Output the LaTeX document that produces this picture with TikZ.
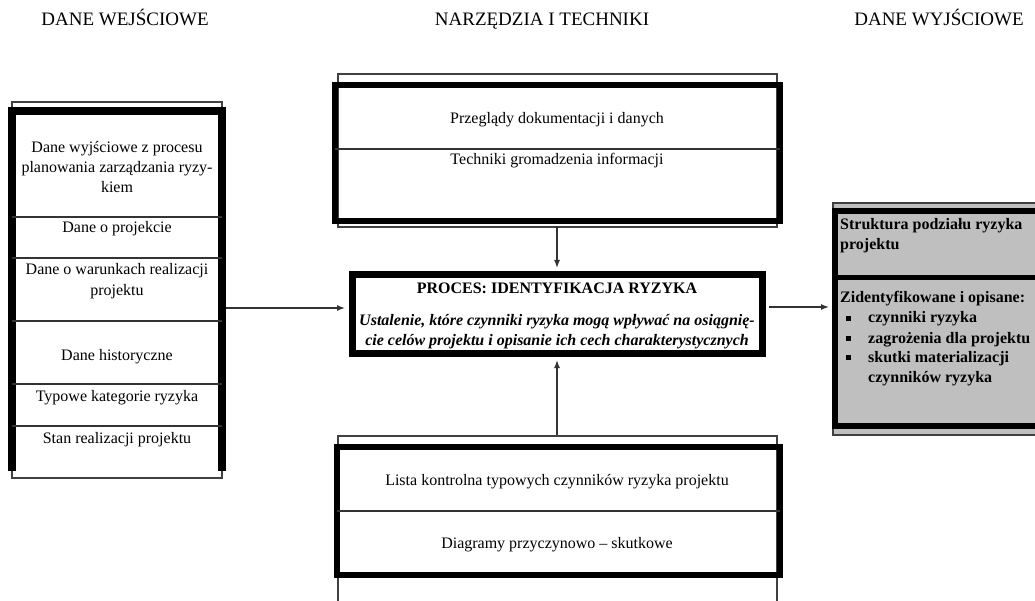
\documentclass[tikz,border=0pt]{standalone}
\usepackage{fontspec}
\setmainfont{Liberation Serif}
\usetikzlibrary{arrows.meta}
\begin{document}
\begin{tikzpicture}[x=1pt,y=-1pt,
  thinframe/.style={draw=black!75, line width=1.1pt},
  heavybox/.style={draw=black, line width=#1, inner sep=0pt},
  divider/.style={draw=black!80, line width=1.2pt},
  head/.style={font=\fontsize{19}{22}\selectfont, inner sep=0pt, anchor=base},
  lbl/.style={font=\fontsize{16}{19}\selectfont, inner sep=0pt, anchor=base},
  lblw/.style={font=\fontsize{16}{19}\selectfont\bfseries, inner sep=0pt, anchor=base west},
  conn/.style={draw=black!80, line width=1.4pt, -{Latex[length=8pt,width=6pt]}},
  ]
\clip (0,0) rectangle (1035,601);

% column headings
\node[head] (hin)   at (125,26) {DANE WEJŚCIOWE};
\node[head] (htool) at (542,26) {NARZĘDZIA I TECHNIKI};
\node[head] (hout)  at (939,26) {DANE WYJŚCIOWE};

% ---- inputs column ----
\node[thinframe, minimum width=210pt, minimum height=376pt, inner sep=0pt] (inouter) at (117,290) {};
\node[inner sep=0pt, minimum width=210pt, minimum height=360pt] (inframe) at (117,291) {};
\draw[black, line width=7.5pt] (inframe.south west) |- (inframe.north east) -- (inframe.south east);
\foreach \yy in {217,258,321,384,426}
  \draw[divider] (12,\yy) -- (222,\yy);
\node[lbl] (in1a) at (117,153) {Dane wyjściowe z procesu};
\node[lbl] (in1b) at (117,173) {planowania zarządzania ryzy-};
\node[lbl] (in1c) at (117,193) {kiem};
\node[lbl] (in2)  at (117,233) {Dane o projekcie};
\node[lbl] (in3a) at (117,275) {Dane o warunkach realizacji};
\node[lbl] (in3b) at (117,296) {projektu};
\node[lbl] (in4)  at (117,360) {Dane historyczne};
\node[lbl] (in5)  at (117,401) {Typowe kategorie ryzyka};
\node[lbl] (in6)  at (117,443) {Stan realizacji projektu};

% ---- tools: upper box ----
\node[thinframe, minimum width=439pt, minimum height=153pt, inner sep=0pt] (topouter) at (557.5,150.5) {};
\node[heavybox=5.5pt, minimum width=445pt, minimum height=136pt] (topbox) at (557.5,153) {};
\draw[divider] (335,149) -- (780,149);
\node[lbl] (t1) at (557,124) {Przeglądy dokumentacji i danych};
\node[lbl] (t2) at (557,165) {Techniki gromadzenia informacji};

% ---- tools: lower box ----
\node[thinframe, minimum width=439pt, minimum height=184pt, inner sep=0pt] (botouter) at (557.5,528) {};
\node[heavybox=5.5pt, minimum width=443pt, minimum height=128pt] (botbox) at (558.5,511) {};
\draw[divider] (337,511) -- (780,511);
\node[lbl] (b1) at (557,485) {Lista kontrolna typowych czynników ryzyka projektu};
\node[lbl] (b2) at (557,548) {Diagramy przyczynowo – skutkowe};

% ---- process ----
\node[lbl, font=\fontsize{16}{19}\selectfont\bfseries] (ptitle) at (557,294) {PROCES: IDENTYFIKACJA RYZYKA};
\node[lbl, font=\fontsize{16}{19}\selectfont\bfseries\itshape] (pl1) at (557,326) {Ustalenie, które czynniki ryzyka mogą wpływać na osiągnię-};
\node[lbl, font=\fontsize{16}{19}\selectfont\bfseries\itshape] (pl2) at (557,345) {cie celów projektu i opisanie ich cech charakterystycznych};
\node[heavybox=7pt, minimum width=410pt, minimum height=78pt] (proc) at (557,314) {};

% ---- outputs ----
\node[thinframe, fill=black!25, minimum width=212pt, minimum height=232pt, inner sep=0pt] (outouter) at (939,319) {};
\node[heavybox=6pt, fill=black!25, minimum width=210pt, minimum height=215pt] (outbox) at (940,318.5) {};
\draw[black, line width=5pt] (835,278) -- (1045,278);
\node[lblw] (o1a) at (840,230) {Struktura podziału ryzyka};
\node[lblw] (o1b) at (840,250) {projektu};
\node[lblw] (o2)  at (840,302) {Zidentyfikowane i opisane:};
\node[lblw] (o2a) at (868,323) {czynniki ryzyka};
\node[lblw] (o2b) at (868,343) {zagrożenia dla projektu};
\node[lblw] (o2c) at (868,362) {skutki materializacji};
\node[lblw] (o2d) at (868,382) {czynników ryzyka};
\foreach \yy in {318,338,357}
  \fill (846,\yy-2.5) rectangle +(5,5);

% ---- connectors ----
\coordinate (inA) at ([yshift=6pt]proc.west);
\draw[conn, shorten <=3.75pt, shorten >=3.5pt] (inA -| inframe.east) -- (inA);
\draw[conn, shorten <=2.75pt, shorten >=3.5pt] (proc.north |- topbox.south) -- (proc.north);
\draw[conn, shorten >=3.5pt] (proc.south |- botouter.north) -- (proc.south);
\coordinate (outA) at ([yshift=7pt]proc.east);
\draw[conn, shorten <=3.5pt, shorten >=3pt] (outA) -- (outA -| outbox.west);
\end{tikzpicture}
\end{document}
